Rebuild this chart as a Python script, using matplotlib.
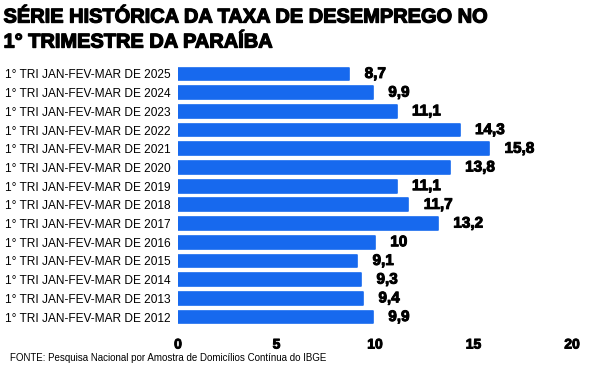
import matplotlib.pyplot as plt
import matplotlib.patheffects as pe

plt.rcParams['font.family'] = ['Liberation Sans', 'DejaVu Sans']

anos = [2025, 2024, 2023, 2022, 2021, 2020, 2019, 2018, 2017, 2016, 2015, 2014, 2013, 2012]
taxas = [8.7, 9.9, 11.1, 14.3, 15.8, 13.8, 11.1, 11.7, 13.2, 10.0, 9.1, 9.3, 9.4, 9.9]
rotulos = [f'1° TRI JAN-FEV-MAR DE {a}' for a in anos]
xticks = [0, 5, 10, 15, 20]

azul = '#1769EE'
grosso = [pe.withStroke(linewidth=0.7, foreground='black')]

fig = plt.figure(figsize=(5.9, 3.78), dpi=100)
ax = fig.add_axes([0.3017, 0.1365, 0.6678, 0.6926])

pos = list(range(len(anos)))
ax.barh(pos, taxas, height=0.68, color=azul, edgecolor=azul,
        linewidth=1.2, joinstyle='round')

for y, v in zip(pos, taxas):
    txt = f'{v:g}'.replace('.', ',')
    ax.annotate(txt, (v, y), xytext=(11, 0), textcoords='offset points',
                va='center', ha='left', fontsize=11, fontweight='bold',
                color='black', path_effects=grosso)

ax.set_yticks(pos)
ax.set_yticklabels(rotulos, fontsize=8.6)
ax.set_ylim(len(anos) - 0.5, -0.5)
ax.set_xlim(0, 20)
ax.set_xticks(xticks)
ax.set_xticklabels([str(t) for t in xticks], fontsize=10, fontweight='bold')
for t in ax.get_xticklabels():
    t.set_path_effects(grosso)
ax.tick_params(axis='both', length=0)
ax.tick_params(axis='x', pad=8)
ax.tick_params(axis='y', pad=5)
for s in ax.spines.values():
    s.set_visible(False)

fig.text(0.006, 0.98, 'SÉRIE HISTÓRICA DA TAXA DE DESEMPREGO NO\n1° TRIMESTRE DA PARAÍBA',
         ha='left', va='top', fontsize=14.4, fontweight='bold', linespacing=1.4,
         path_effects=[pe.withStroke(linewidth=0.9, foreground='black')])
fig.text(0.017, 0.052, 'FONTE: Pesquisa Nacional por Amostra de Domicílios Contínua do IBGE',
         ha='left', va='center', fontsize=7.0)

fig.savefig('out.png', dpi=100)
